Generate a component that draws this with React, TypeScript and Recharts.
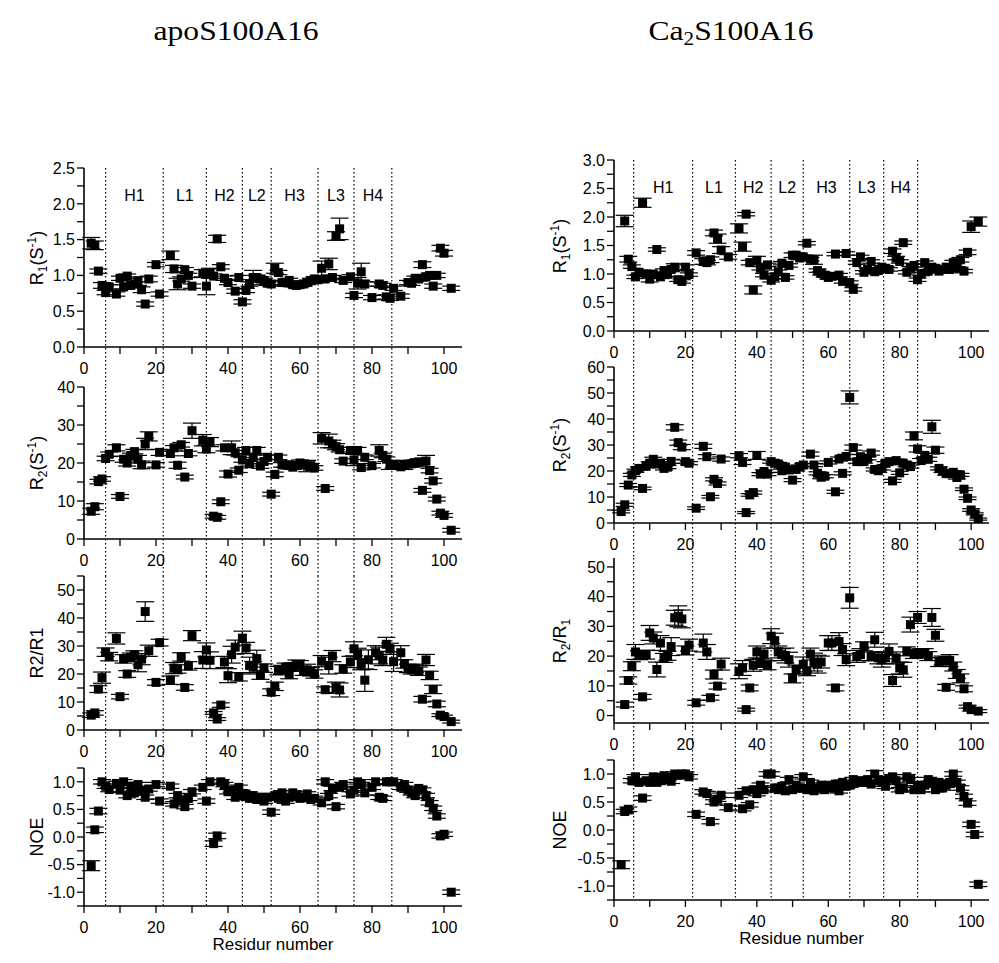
import React from "react";
import {
  ScatterChart, Scatter, XAxis, YAxis, ErrorBar, ReferenceArea, ReferenceLine,
} from "recharts";

const SANS = '"Liberation Sans", Arial, sans-serif';
const SERIF = '"Liberation Serif", "Times New Roman", serif';

// ---------- shared axis values ----------
const xTicks = [0, 10, 20, 30, 40, 50, 60, 70, 80, 90, 100];
const regionNames = ["H1", "L1", "H2", "L2", "H3", "L3", "H4"];
const apoBounds = [6, 22, 34, 44, 52, 65, 75, 85.5];
const caBounds = [5.5, 22, 34, 44, 53, 66, 75.5, 85];

const r1TicksApo = [0, 0.25, 0.5, 0.75, 1, 1.25, 1.5, 1.75, 2, 2.25, 2.5];
const r2TicksApo = [0, 5, 10, 15, 20, 25, 30, 35, 40];
const ratioTicksApo = [0, 5, 10, 15, 20, 25, 30, 35, 40, 45, 50, 55];
const r1TicksCa = [0, 0.25, 0.5, 0.75, 1, 1.25, 1.5, 1.75, 2, 2.25, 2.5, 2.75, 3];
const r2TicksCa = [0, 5, 10, 15, 20, 25, 30, 35, 40, 45, 50, 55, 60];
const ratioTicksCa = [0, 5, 10, 15, 20, 25, 30, 35, 40, 45, 50];
const noeTicks = [-1.25, -1, -0.75, -0.5, -0.25, 0, 0.25, 0.5, 0.75, 1, 1.25];

// ---------- apoS100A16 ----------
const apoResidue = [
  2, 3, 4, 5, 6, 7, 9, 10, 11, 12, 13, 14, 15, 16, 17, 18, 20, 21,
  24, 25, 26, 27, 28, 29, 30,
  33, 34, 35, 36, 37, 38, 39, 40, 41, 42, 43, 44, 45, 46, 47, 48, 49, 50, 51,
  52, 53, 54, 55, 56, 57, 58, 59, 60, 61, 62, 63, 64, 65, 66, 67, 68, 69, 70, 71, 72,
  74, 75, 76, 77, 78, 79, 80, 81, 82, 83, 84, 85, 86,
  88, 89, 90, 91, 92, 93, 94, 95, 96, 97, 98, 99, 100, 102,
];
const apoR1 = [
  1.45, 1.42, 1.06, 0.86, 0.76, 0.84, 0.74, 0.96, 0.84, 0.99, 0.86, 0.88, 0.92, 0.8, 0.6, 0.95, 1.15, 0.74,
  1.28, 1.09, 0.88, 0.95, 1.08, 1.0, 0.85,
  1.03, 0.85, 1.03, 0.99, 1.51, 1.12, 0.96, 0.9, null, 0.78, 0.97, 0.63, 0.79, 0.88, 0.97, 0.97, 0.95, 0.93, 0.89,
  0.88, 1.1, 1.04, 0.9, 0.9, 0.93, 0.87, 0.86, 0.87, 0.88, 0.9, 0.93, 0.95, 0.94, 1.1, 0.95, 1.16, 0.97, 1.55, 1.65, 0.93,
  0.98, 0.72, 0.89, 1.05, 0.88, null, 0.69, null, 0.88, 0.86, 0.7, 0.68, 0.82,
  0.71, null, 0.9, 0.89, 0.96, 0.95, 1.15, 0.98, 1.0, 0.85, 1.0, 1.38, 1.31, 0.82,
];
const apoR1Err = [
  0.08, 0.06, 0.03, 0.04, 0.03, 0.03, 0.03, 0.03, 0.03, 0.03, 0.03, 0.03, 0.06, 0.04, 0.03, 0.04, 0.03, 0.03,
  0.06, 0.05, 0.08, 0.03, 0.03, 0.03, 0.03,
  0.05, 0.12, 0.07, 0.03, 0.05, 0.03, 0.03, 0.03, 0, 0.03, 0.03, 0.03, 0.03, 0.03, 0.1, 0.03, 0.03, 0.03, 0.03,
  0.03, 0.07, 0.03, 0.03, 0.03, 0.03, 0.03, 0.03, 0.03, 0.03, 0.03, 0.03, 0.03, 0.03, 0.1, 0.03, 0.08, 0.03, 0.06, 0.15, 0.03,
  0.03, 0.03, 0.08, 0.12, 0.03, 0, 0.03, 0, 0.03, 0.03, 0.03, 0.03, 0.03,
  0.03, 0, 0.03, 0.03, 0.03, 0.03, 0.04, 0.03, 0.03, 0.03, 0.03, 0.04, 0.04, 0.03,
];
const apoR2 = [
  7.3, 8.5, 15.1, 15.8, 21.2, 22.3, 24.0, 11.2, 21.0, 20.0, 22.0, 23.0, 21.0, 19.5, 25.0, 27.0, 19.5, 22.8,
  22.5, 24.0, 19.4, 24.8, 16.3, 22.5, 28.5,
  26.0, 23.7, 25.5, 6.0, 5.7, 9.8, 24.0, 17.1, 24.0, 22.7, 18.1, 20.8, 23.3, 19.8, 21.5, 23.3, 19.2, 20.4, 21.5,
  11.8, 17.0, 21.5, 19.5, 19.5, 19.5, 18.9, 19.4, 20.0, 19.6, 19.2, 19.3, 18.7, null, 26.5, 13.3, 25.8, 25.0, 24.3, 23.5, 20.5,
  23.3, 20.8, 23.3, 18.8, 21.5, null, 19.3, null, 23.3, 22.0, 21.0, 19.5, 19.5,
  19.0, 19.5, 19.7, 19.8, 20.0, 20.3, 12.8, 20.5, 18.0, 15.3, 10.5, 6.8, 6.2, 2.3,
];
const apoR2Err = [
  0.8, 0.8, 0.6, 0.6, 0.6, 0.6, 0.8, 0.5, 0.8, 0.8, 0.6, 0.6, 1.0, 1.0, 1.5, 1.2, 0.6, 0.8,
  0.6, 0.6, 0.8, 0.6, 0.5, 0.6, 2.0,
  1.5, 1.0, 1.2, 0.5, 0.5, 0.5, 0.8, 0.8, 1.8, 0.6, 0.6, 0.6, 0.8, 0.6, 0.6, 0.8, 0.6, 0.6, 0.6,
  0.5, 0.6, 0.6, 0.6, 0.6, 0.6, 0.6, 0.6, 0.8, 0.6, 1.5, 0.6, 0.6, 0, 1.5, 0.5, 1.8, 1.0, 0.8, 0.6, 0.6,
  0.8, 1.5, 0.8, 0.6, 0.6, 0, 0.6, 0, 1.5, 0.6, 0.6, 1.2, 0.8,
  0.6, 1.2, 0.8, 0.8, 0.6, 0.8, 0.5, 1.5, 0.6, 0.6, 0.5, 0.5, 0.5, 0.5,
];
const apoRatio = [
  5.3, 6.1, 14.6, 18.7, 27.8, 26.2, 32.7, 11.9, 25.4, 20.0, 26.0, 26.8, 23.3, 25.3, 42.3, 28.3, 17.0, 31.2,
  17.8, 22.1, 21.8, 26.1, 15.2, 22.9, 33.7,
  25.0, 28.6, 24.9, 6.1, 3.9, 8.9, 24.3, 19.4, 26.9, 29.6, 19.0, 32.8, 29.3, 23.0, 22.5, 25.5, 19.6, 22.1, null,
  13.5, 15.6, 21.2, 21.6, 22.4, 19.8, 22.5, 23.0, 23.3, 21.0, 21.5, 20.8, 20.0, null, 24.6, 14.4, 23.0, 26.4, 15.1, 14.3, 21.8,
  24.3, 29.0, 27.2, 23.5, 17.8, 25.1, null, 27.6, 26.6, 25.0, 30.6, 29.0, 24.4,
  27.6, 23.6, 22.0, 21.5, 22.0, 21.0, 11.0, 25.0, 19.5, 14.5, 9.3, 5.3, 4.8, 3.0,
];
const apoRatioErr = [
  0.8, 0.8, 1.2, 2.0, 1.5, 1.5, 2.0, 0.8, 1.5, 1.2, 1.5, 1.5, 2.5, 2.0, 3.5, 2.0, 1.0, 1.2,
  1.5, 2.0, 1.5, 1.5, 1.0, 1.5, 1.8,
  3.0, 2.5, 3.0, 0.5, 0.5, 0.8, 2.0, 2.5, 3.0, 2.5, 1.5, 2.5, 2.0, 3.0, 2.0, 3.0, 1.5, 1.5, 0,
  1.2, 1.5, 1.5, 1.5, 1.5, 1.5, 1.5, 2.0, 1.5, 1.5, 2.0, 1.5, 1.5, 0, 2.0, 1.0, 3.0, 2.0, 2.0, 2.5, 1.5,
  2.0, 2.5, 2.0, 2.0, 4.0, 3.5, 0, 2.5, 3.0, 2.0, 2.5, 2.0, 3.5,
  2.5, 1.5, 1.5, 1.5, 1.5, 1.5, 1.0, 2.0, 1.5, 1.5, 1.0, 0.5, 0.5, 0.5,
];
const apoNoe = [
  -0.52, 0.13, 0.47, 1.0, 0.92, 0.86, 0.97, 0.85, 1.0, 0.75, 0.92, 0.8, 0.95, 0.85, 0.72, 0.87, 0.95, 0.65,
  0.92, 0.6, 0.75, 0.67, 0.55, 0.7, 0.82,
  0.9, 0.65, 1.0, -0.12, 0.02, 1.0, 0.95, 0.82, 0.85, 0.72, 0.9, 0.75, 0.78, 0.7, 0.75, 0.68, 0.72, 0.65, 0.72,
  0.45, 0.75, 0.7, 0.8, 0.65, 0.72, 0.8, 0.75, 0.7, 0.72, 0.78, 0.68, 0.7, null, 0.62, 1.0, 0.75, 0.88, 0.55, 0.9, 0.95,
  0.78, 0.85, 1.0, 0.95, 0.8, null, 0.9, 1.0, 0.72, 0.7, 1.0, 1.0, 1.0,
  0.9, 0.95, 0.85, 0.8, 0.75, 0.88, 0.85, 0.75, 0.62, 0.52, 0.38, 0.02, 0.05, -1.0,
];
const apoNoeErr = [
  0.09, 0.05, 0.05, 0.04, 0.04, 0.04, 0.04, 0.04, 0.04, 0.04, 0.04, 0.04, 0.04, 0.04, 0.04, 0.04, 0.04, 0.04,
  0.04, 0.04, 0.04, 0.04, 0.04, 0.04, 0.04,
  0.04, 0.04, 0.04, 0.05, 0.05, 0.04, 0.04, 0.04, 0.04, 0.04, 0.04, 0.04, 0.04, 0.04, 0.04, 0.04, 0.04, 0.04, 0.04,
  0.04, 0.04, 0.04, 0.04, 0.04, 0.04, 0.04, 0.04, 0.04, 0.04, 0.04, 0.04, 0.04, 0, 0.04, 0.04, 0.04, 0.04, 0.04, 0.04, 0.04,
  0.04, 0.04, 0.04, 0.04, 0.04, 0, 0.04, 0.04, 0.04, 0.04, 0.04, 0.04, 0.04,
  0.04, 0.04, 0.04, 0.04, 0.04, 0.04, 0.04, 0.04, 0.04, 0.04, 0.04, 0.04, 0.04, 0.04,
];

// ---------- Ca2S100A16 ----------
const caResidue = [
  2, 3, 4, 5, 6, 7, 8, 9, 10, 11, 12, 13, 14, 15, 16, 17, 18, 19, 20, 21,
  23, 25, 26, 27, 28, 29, 30, 32,
  35, 36, 37, 38, 39, 40, 41, 42, 43, 44, 45, 46, 47, 48, 49, 50, 51, 52, 53, 54,
  55, 56, 57, 58, 59, 60, 61, 62, 63, 64, 65, 66, 67, 68,
  69, 70, 71, 72, 73, 74, 75, 76, 77, 78, 79, 80, 81, 82, 83, 84, 85, 86, 87, 88,
  89, 90, 91, 92, 93, 94, 95, 96, 97, 98, 99, 100, 101, 102,
];
const caR1 = [
  null, 1.93, 1.26, 1.13, 0.95, 1.03, 2.25, 1.0, 0.91, 1.0, 1.43, 0.95, 1.06, 1.0, 1.08, 1.12, 0.9, 0.87, 1.12, 0.99,
  1.37, 1.22, 1.2, 1.25, 1.72, 1.62, 1.42, 1.3,
  1.8, 1.48, 2.05, 1.2, 0.72, 1.24, 1.1, 0.98, 1.16, 0.89, 0.95, 1.04, 1.19, 0.94, 1.15, 1.33, 1.33, 1.28, 1.3, 1.54,
  1.26, 1.25, 1.06, 1.01, 0.98, 0.94, 0.96, 1.35, 0.98, 0.87, 1.36, 0.85, 0.73, 1.2,
  1.3, 1.03, 1.08, 1.22, 1.04, 1.06, 1.12, 1.1, 1.08, 1.4, 1.28, 1.22, 1.55, 1.03, 1.1, 1.15, 0.9, 1.0, 1.2, 1.05,
  1.12, 1.1, 1.05, 1.08, 1.12, 1.08, 1.2, 1.1, 1.25, 1.05, 1.38, 1.83, null, 1.92,
];
const caR1Err = [
  0, 0.1, 0.05, 0.03, 0.03, 0.04, 0.08, 0.05, 0.05, 0.03, 0.03, 0.03, 0.03, 0.04, 0.04, 0.06, 0.03, 0.03, 0.04, 0.03,
  0.04, 0.05, 0.04, 0.05, 0.05, 0.08, 0.06, 0.04,
  0.08, 0.08, 0.03, 0.04, 0.07, 0.07, 0.03, 0.03, 0.03, 0.03, 0.03, 0.03, 0.03, 0.03, 0.03, 0.04, 0.04, 0.03, 0.03, 0.03,
  0.03, 0.08, 0.03, 0.03, 0.03, 0.03, 0.03, 0.03, 0.03, 0.03, 0.03, 0.03, 0.03, 0.03,
  0.03, 0.03, 0.03, 0.03, 0.03, 0.03, 0.03, 0.03, 0.03, 0.04, 0.03, 0.03, 0.03, 0.03, 0.03, 0.03, 0.03, 0.03, 0.03, 0.03,
  0.03, 0.03, 0.03, 0.03, 0.03, 0.03, 0.04, 0.03, 0.04, 0.03, 0.04, 0.1, 0, 0.08,
];
const caR2 = [
  4.4, 7.0, 14.6, 18.5, 20.1, 21.0, 13.3, 21.8, 23.0, 24.5, 22.7, 23.0, 21.0, 21.5, 23.7, 36.8, 30.9, 29.2, 23.6, 23.0,
  5.7, 29.5, 25.5, 10.1, 16.8, 15.2, 24.6, null,
  25.9, 23.3, 4.0, 10.8, 11.7, 26.0, 18.8, 19.8, 18.8, 23.6, 23.0, 22.7, 20.1, 21.5, 20.4, 16.5, 20.6, 21.7, 22.3, null,
  26.5, 22.3, 19.1, 17.6, 18.0, 23.3, null, 12.0, 24.6, 19.1, 25.6, 48.3, 29.0, 23.6,
  25.5, 23.6, 24.9, 26.9, 20.6, 20.1, 21.0, 23.0, 23.6, 16.2, 24.0, 19.3, 23.0, 22.3, 21.7, 33.5, 28.5, 24.0, 26.0, 24.5,
  37.0, 28.0, 21.0, 20.0, 19.0, 19.0, 19.5, 17.5, 18.5, 13.0, 9.5, 5.0, 3.5, 1.5,
];
const caR2Err = [
  0.5, 0.6, 0.6, 0.6, 0.6, 0.6, 0.5, 0.6, 0.6, 0.8, 0.6, 0.6, 0.6, 0.6, 0.8, 1.0, 1.0, 1.0, 0.6, 0.6,
  0.5, 0.8, 0.8, 0.5, 0.6, 0.6, 0.8, 0,
  0.8, 0.8, 0.4, 0.5, 0.6, 1.5, 0.6, 0.6, 0.6, 0.6, 0.6, 0.6, 0.6, 0.6, 0.6, 0.6, 0.6, 0.6, 0.6, 0,
  0.8, 0.6, 0.6, 0.6, 0.6, 0.6, 0, 0.6, 0.8, 0.6, 0.8, 2.5, 1.0, 0.6,
  0.8, 0.6, 0.6, 0.8, 0.6, 0.6, 0.6, 0.6, 0.6, 0.6, 0.6, 0.6, 0.6, 0.6, 0.6, 1.5, 1.2, 0.8, 0.8, 0.8,
  2.5, 1.2, 0.6, 0.6, 0.6, 0.6, 0.6, 0.6, 0.6, 0.5, 0.5, 0.5, 0.4, 0.4,
];
const caRatio = [
  null, 3.7, 11.8, 16.6, 21.4, 20.3, 6.3, 20.5, 27.8, 26.1, 15.5, 24.4, 19.4, 20.1, 23.2, 32.9, 33.4, 32.5, 21.9, 23.7,
  4.3, 24.4, 21.4, 6.0, 13.8, 9.9, 17.3, null,
  14.9, 16.0, 2.0, 9.3, 16.9, 21.4, 17.7, 20.7, 16.9, 26.7, 25.2, 21.4, 20.5, 20.2, 18.8, 12.5, 15.5, null, 17.2, 14.9,
  20.7, 18.0, 17.3, 18.0, null, 24.4, 24.4, 9.3, 24.9, 22.2, 18.8, 39.6, null, 19.9,
  20.5, 23.3, null, 19.9, 25.5, 19.4, 18.8, 19.4, 21.6, 11.8, 19.4, 16.0, 15.4, 21.6, 30.6, 20.7, 33.0, 21.0, 21.0, 20.0,
  33.0, 27.0, 18.0, 18.5, 9.5, 18.5, 16.5, 14.0, 12.5, 9.0, 3.0, 2.0, null, 1.5,
];
const caRatioErr = [
  0, 0.8, 1.2, 1.5, 2.5, 1.5, 0.8, 1.5, 2.5, 2.0, 2.5, 2.5, 1.5, 1.5, 3.0, 2.5, 3.5, 3.0, 1.5, 2.0,
  0.8, 3.0, 2.5, 0.8, 1.5, 1.0, 2.0, 0,
  2.5, 2.5, 0.5, 1.0, 2.0, 2.0, 1.5, 2.0, 1.5, 2.5, 2.5, 2.0, 2.0, 2.5, 2.5, 1.5, 1.5, 0, 2.5, 1.5,
  2.0, 3.0, 3.0, 2.0, 0, 2.5, 2.5, 1.0, 3.0, 2.0, 2.0, 3.5, 0, 2.0,
  2.0, 1.5, 0, 1.5, 2.5, 2.0, 2.5, 2.0, 2.5, 2.0, 2.0, 2.0, 2.5, 1.5, 2.5, 1.5, 2.0, 1.5, 1.5, 1.5,
  3.0, 2.0, 1.5, 1.5, 1.0, 2.0, 1.5, 1.5, 1.5, 1.0, 0.5, 0.5, 0, 0.5,
];
const caNoe = [
  -0.62, 0.33, 0.37, 0.88, 0.95, 0.85, 0.57, 0.88, 0.85, 0.95, 0.85, 0.9, 0.97, 0.92, 0.87, 1.0, 0.98, 1.0, 1.0, 0.95,
  0.28, 0.68, 0.65, 0.15, 0.5, 0.55, 0.62, 0.4,
  0.62, 0.38, 0.7, 0.45, 0.72, 0.65, 0.8, 0.72, 1.0, 1.0, 0.75, 0.72, 0.78, 0.7, 0.9, 0.72, 0.8, 0.75, 0.95, 0.72,
  0.85, 0.7, 0.75, 0.8, 0.72, 0.8, 0.75, 0.82, 0.7, 0.85, 0.78, 0.8, 0.9, 0.85,
  0.88, 0.85, 0.9, 0.82, 1.0, 0.9, 0.85, 0.78, 0.92, 0.95, 0.88, 0.72, 0.75, 0.95, 0.9, 0.72, 0.8, 0.72, 0.8, 0.9,
  0.85, 0.72, 0.85, 0.75, 0.8, 0.85, 1.0, 0.85, 0.75, 0.6, 0.48, 0.1, -0.08, -0.97,
];
const caNoeErr = [
  0.07, 0.04, 0.04, 0.04, 0.04, 0.04, 0.04, 0.04, 0.04, 0.04, 0.04, 0.04, 0.04, 0.04, 0.04, 0.04, 0.04, 0.04, 0.04, 0.04,
  0.04, 0.04, 0.04, 0.04, 0.04, 0.04, 0.04, 0.04,
  0.04, 0.04, 0.04, 0.04, 0.04, 0.04, 0.04, 0.04, 0.04, 0.04, 0.04, 0.04, 0.04, 0.04, 0.04, 0.04, 0.04, 0.04, 0.04, 0.04,
  0.04, 0.04, 0.04, 0.04, 0.04, 0.04, 0.04, 0.04, 0.04, 0.04, 0.04, 0.04, 0.04, 0.04,
  0.04, 0.04, 0.04, 0.04, 0.06, 0.04, 0.04, 0.04, 0.04, 0.04, 0.04, 0.04, 0.04, 0.04, 0.04, 0.04, 0.04, 0.04, 0.04, 0.04,
  0.04, 0.04, 0.04, 0.04, 0.04, 0.04, 0.04, 0.04, 0.04, 0.04, 0.04, 0.04, 0.04, 0.04,
];

type Pt = { x: number; y: number; err: number };
const toPoints = (res: number[], vals: (number | null)[], errs: number[]): Pt[] =>
  res
    .map((x, i) => ({ x, y: vals[i] as number, err: errs[i] }))
    .filter((p) => p.y !== null && p.y !== undefined);

// ---------- layout ----------
const X_MAX = 105;
const YW = 64;
const MT = 14;
const MR = 6;
const XH = 44;

type Box = { left: number; right: number; top: number; bottom: number };
const apoCol = { left: 84, right: 462 };
const caCol = { left: 614, right: 989 };
const apoBoxes: Box[] = [
  { ...apoCol, top: 168, bottom: 347 },
  { ...apoCol, top: 387, bottom: 539 },
  { ...apoCol, top: 576, bottom: 730 },
  { ...apoCol, top: 768, bottom: 906 },
];
const caBoxes: Box[] = [
  { ...caCol, top: 160, bottom: 331 },
  { ...caCol, top: 367, bottom: 523 },
  { ...caCol, top: 558, bottom: 723 },
  { ...caCol, top: 760, bottom: 900 },
];

const axisStyle = { stroke: "#000", strokeWidth: 1.6 };
const tickStyle = { stroke: "#000", strokeWidth: 1.3 };

function XTick(props: any) {
  const { x, y, payload } = props;
  if (payload.value % 20 !== 0) return <g />;
  return (
    <text x={x} y={y} dy="0.72em" textAnchor="middle" fontSize={16} fontFamily={SANS} fill="#000">
      {payload.value}
    </text>
  );
}

function makeYTick(step: number, digits: number) {
  return (props: any) => {
    const { x, y, payload } = props;
    const k = payload.value / step;
    if (Math.abs(k - Math.round(k)) > 1e-6) return <g />;
    return (
      <text x={x} y={y} dy="0.36em" textAnchor="end" fontSize={16} fontFamily={SANS} fill="#000">
        {payload.value.toFixed(digits)}
      </text>
    );
  };
}

const Square = (props: any) => {
  const { cx, cy } = props;
  if (cx == null || cy == null) return <g />;
  return <rect x={cx - 4.5} y={cy - 4.5} width={9} height={9} fill="#000" />;
};

type PanelProps = {
  box: Box;
  points: Pt[];
  yDomain: [number, number];
  yTicks: number[];
  yStep: number;
  yDigits: number;
  bounds: number[];
  nextTop?: number;
  showRegions?: boolean;
};

function Panel({ box, points, yDomain, yTicks, yStep, yDigits, bounds, nextTop, showRegions }: PanelProps) {
  const plotW = box.right - box.left;
  const plotH = box.bottom - box.top;
  // dotted guides run down through the tick labels to the next panel
  const perUnit = plotH / (yDomain[1] - yDomain[0]);
  const yLow = nextTop ? yDomain[0] - (nextTop - box.bottom) / perUnit : yDomain[0];
  return (
    <div style={{ position: "absolute", left: box.left - YW, top: box.top - MT }}>
      <ScatterChart
        width={plotW + YW + MR}
        height={plotH + MT + XH}
        margin={{ top: MT, right: MR, bottom: 0, left: 0 }}
        style={{ overflow: "visible" }}
      >
        <XAxis
          type="number"
          dataKey="x"
          domain={[0, X_MAX]}
          ticks={xTicks}
          interval={0}
          tick={XTick}
          tickSize={7}
          tickMargin={8}
          height={XH}
          axisLine={axisStyle}
          tickLine={tickStyle}
          allowDataOverflow
        />
        <YAxis
          type="number"
          dataKey="y"
          domain={yDomain}
          ticks={yTicks}
          interval={0}
          tick={makeYTick(yStep, yDigits)}
          tickSize={7}
          tickMargin={2}
          width={YW}
          axisLine={axisStyle}
          tickLine={tickStyle}
          allowDataOverflow
        />
        {bounds.map((b) => (
          <ReferenceLine
            key={`g${b}`}
            segment={[{ x: b, y: yDomain[1] }, { x: b, y: yLow }]}
            ifOverflow="visible"
            stroke="#000"
            strokeWidth={1.2}
            strokeDasharray="1.5 2.5"
          />
        ))}
        {showRegions &&
          regionNames.map((name, i) => (
            <ReferenceArea
              key={name}
              x1={bounds[i]}
              x2={bounds[i + 1]}
              fill="none"
              stroke="none"
              label={{ value: name, position: "insideTop", offset: 22, fill: "#000", fontSize: 16, fontFamily: SANS }}
            />
          ))}
        <Scatter data={points} isAnimationActive={false} shape={Square}>
          <ErrorBar dataKey="err" direction="y" width={9} stroke="#000" strokeWidth={1.2} />
        </Scatter>
      </ScatterChart>
    </div>
  );
}

function YTitle({ x, y, children }: { x: number; y: number; children: React.ReactNode }) {
  return (
    <div
      style={{
        position: "absolute",
        left: x,
        top: y,
        transform: "translate(-50%, -50%) rotate(-90deg)",
        whiteSpace: "nowrap",
        fontFamily: SANS,
        fontSize: 18,
        lineHeight: "20px",
        color: "#000",
      }}
    >
      {children}
    </div>
  );
}

const sub = { fontSize: 12, verticalAlign: "-4px", lineHeight: 0 } as const;
const sup = { fontSize: 12, verticalAlign: "7px", lineHeight: 0 } as const;

function XTitle({ x, y, text }: { x: number; y: number; text: string }) {
  return (
    <div
      style={{
        position: "absolute",
        left: x,
        top: y,
        transform: "translateX(-50%)",
        whiteSpace: "nowrap",
        fontFamily: SANS,
        fontSize: 17,
        lineHeight: "20px",
        color: "#000",
      }}
    >
      {text}
    </div>
  );
}

function Title({ x, children }: { x: number; children: React.ReactNode }) {
  return (
    <div
      style={{
        position: "absolute",
        left: x,
        top: 18,
        transform: "translateX(-50%) scaleX(1.17)",
        whiteSpace: "nowrap",
        fontFamily: SERIF,
        fontSize: 27,
        lineHeight: "27px",
        color: "#000",
      }}
    >
      {children}
    </div>
  );
}

const midY = (b: Box) => (b.top + b.bottom) / 2;

export default function App() {
  const apoR1Pts = toPoints(apoResidue, apoR1, apoR1Err);
  const apoR2Pts = toPoints(apoResidue, apoR2, apoR2Err);
  const apoRatioPts = toPoints(apoResidue, apoRatio, apoRatioErr);
  const apoNoePts = toPoints(apoResidue, apoNoe, apoNoeErr);
  const caR1Pts = toPoints(caResidue, caR1, caR1Err);
  const caR2Pts = toPoints(caResidue, caR2, caR2Err);
  const caRatioPts = toPoints(caResidue, caRatio, caRatioErr);
  const caNoePts = toPoints(caResidue, caNoe, caNoeErr);

  return (
    <div style={{ position: "absolute", left: 0, top: 0, width: 999, height: 963, background: "#fff", overflow: "hidden" }}>
      <Title x={236}>apoS100A16</Title>
      <Title x={731}>
        Ca<span style={{ fontSize: 18, verticalAlign: "-5px", lineHeight: 0 }}>2</span>S100A16
      </Title>

      <Panel box={apoBoxes[0]} points={apoR1Pts} yDomain={[0, 2.5]} yTicks={r1TicksApo} yStep={0.5} yDigits={1}
        bounds={apoBounds} nextTop={apoBoxes[1].top} showRegions />
      <Panel box={apoBoxes[1]} points={apoR2Pts} yDomain={[0, 40]} yTicks={r2TicksApo} yStep={10} yDigits={0}
        bounds={apoBounds} nextTop={apoBoxes[2].top} />
      <Panel box={apoBoxes[2]} points={apoRatioPts} yDomain={[0, 55]} yTicks={ratioTicksApo} yStep={10} yDigits={0}
        bounds={apoBounds} nextTop={apoBoxes[3].top} />
      <Panel box={apoBoxes[3]} points={apoNoePts} yDomain={[-1.25, 1.25]} yTicks={noeTicks} yStep={0.5} yDigits={1}
        bounds={apoBounds} />

      <Panel box={caBoxes[0]} points={caR1Pts} yDomain={[0, 3]} yTicks={r1TicksCa} yStep={0.5} yDigits={1}
        bounds={caBounds} nextTop={caBoxes[1].top} showRegions />
      <Panel box={caBoxes[1]} points={caR2Pts} yDomain={[0, 60]} yTicks={r2TicksCa} yStep={10} yDigits={0}
        bounds={caBounds} nextTop={caBoxes[2].top} />
      <Panel box={caBoxes[2]} points={caRatioPts} yDomain={[-2.5, 53]} yTicks={ratioTicksCa} yStep={10} yDigits={0}
        bounds={caBounds} nextTop={caBoxes[3].top} />
      <Panel box={caBoxes[3]} points={caNoePts} yDomain={[-1.25, 1.25]} yTicks={noeTicks} yStep={0.5} yDigits={1}
        bounds={caBounds} />

      <YTitle x={37} y={midY(apoBoxes[0])}>
        R<span style={sub}>1</span>(S<span style={sup}>-1</span>)
      </YTitle>
      <YTitle x={37} y={midY(apoBoxes[1])}>
        R<span style={sub}>2</span>(S<span style={sup}>-1</span>)
      </YTitle>
      <YTitle x={37} y={midY(apoBoxes[2])}>R2/R1</YTitle>
      <YTitle x={37} y={midY(apoBoxes[3])}>NOE</YTitle>

      <YTitle x={560} y={midY(caBoxes[0])}>
        R<span style={sub}>1</span>(S<span style={sup}>-1</span>)
      </YTitle>
      <YTitle x={560} y={midY(caBoxes[1])}>
        R<span style={sub}>2</span>(S<span style={sup}>-1</span>)
      </YTitle>
      <YTitle x={560} y={midY(caBoxes[2])}>
        R<span style={sub}>2</span>/R<span style={sub}>1</span>
      </YTitle>
      <YTitle x={560} y={midY(caBoxes[3])}>NOE</YTitle>

      <XTitle x={(apoCol.left + apoCol.right) / 2} y={apoBoxes[3].bottom + 29} text="Residur number" />
      <XTitle x={(caCol.left + caCol.right) / 2} y={caBoxes[3].bottom + 29} text="Residue number" />
    </div>
  );
}
